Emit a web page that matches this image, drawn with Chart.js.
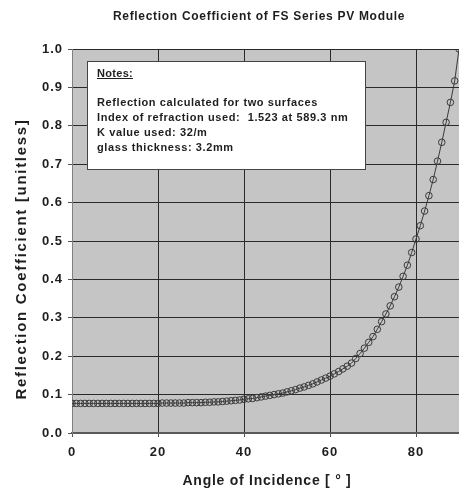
<!DOCTYPE html>
<html>
<head>
<meta charset="utf-8">
<script src="https://cdn.jsdelivr.net/npm/chart.js@4/dist/chart.umd.min.js"></script>
<style>
  html, body { margin: 0; padding: 0; background: #fff; overflow: hidden; }
  #wrap { position: absolute; left: 0; top: 0; width: 464px; height: 495px; }
</style>
</head>
<body>
<div id="wrap"><canvas id="myChart" width="464" height="495"></canvas></div>
<script>
// angle of incidence in degrees, one point per degree
const angles = [
  0, 1, 2, 3, 4, 5, 6, 7, 8, 9,
  10, 11, 12, 13, 14, 15, 16, 17, 18, 19,
  20, 21, 22, 23, 24, 25, 26, 27, 28, 29,
  30, 31, 32, 33, 34, 35, 36, 37, 38, 39,
  40, 41, 42, 43, 44, 45, 46, 47, 48, 49,
  50, 51, 52, 53, 54, 55, 56, 57, 58, 59,
  60, 61, 62, 63, 64, 65, 66, 67, 68, 69,
  70, 71, 72, 73, 74, 75, 76, 77, 78, 79,
  80, 81, 82, 83, 84, 85, 86, 87, 88, 89,
  90
]

// reflection coefficient (unitless) for each angle above
const reflection = [
  0.077, 0.077, 0.077, 0.077, 0.077, 0.077, 0.077, 0.077, 0.077, 0.077,
  0.077, 0.077, 0.077, 0.077, 0.077, 0.077, 0.077, 0.077, 0.077, 0.077,
  0.077, 0.078, 0.078, 0.078, 0.078, 0.078, 0.078, 0.079, 0.079, 0.079,
  0.079, 0.080, 0.080, 0.081, 0.081, 0.082, 0.083, 0.084, 0.085, 0.086,
  0.088, 0.089, 0.090, 0.092, 0.094, 0.096, 0.098, 0.100, 0.102, 0.104,
  0.107, 0.110, 0.113, 0.117, 0.120, 0.124, 0.128, 0.133, 0.138, 0.143,
  0.148, 0.154, 0.160, 0.167, 0.174, 0.182, 0.194, 0.207, 0.221, 0.236,
  0.251, 0.270, 0.290, 0.310, 0.331, 0.355, 0.380, 0.408, 0.437, 0.470,
  0.505, 0.540, 0.578, 0.618, 0.660, 0.708, 0.757, 0.809, 0.861, 0.917,
  1.000
]

const chartTitle = 'Reflection Coefficient of FS Series PV Module'
const xTitle = 'Angle of Incidence [ ° ]'
const yTitle = 'Reflection Coefficient [unitless]'
const notesHead = 'Notes:'
const notesLines = [
  'Reflection calculated for two surfaces',
  'Index of refraction used:  1.523 at 589.3 nm',
  'K value used: 32/m',
  'glass thickness: 3.2mm'
]

const points = angles.map((a, i) => ({ x: a, y: reflection[i] }))

const FONT = '"Liberation Sans", Arial, sans-serif'

// grey plot background + wider tick lettering
const plotBackground = {
  id: 'plotBackground',
  beforeDraw (chart) {
    const { ctx, chartArea } = chart
    ctx.save()
    ctx.fillStyle = '#c5c5c5'
    ctx.fillRect(chartArea.left, chartArea.top, chartArea.right - chartArea.left, chartArea.bottom - chartArea.top)
    ctx.restore()
    ctx.letterSpacing = '1px'
  }
}

function spacedText (ctx, text, x, y, spacing) {
  ctx.letterSpacing = spacing + 'px'
  ctx.fillText(text, x, y)
}

// title, axis titles and the notes box
const annotations = {
  id: 'annotations',
  afterDraw (chart) {
    const { ctx } = chart
    ctx.save()
    ctx.fillStyle = '#1e1e1e'
    ctx.textAlign = 'center'
    ctx.textBaseline = 'middle'

    ctx.font = 'bold 12px ' + FONT
    spacedText(ctx, chartTitle, 259, 17, 0.7)

    ctx.font = 'bold 14px ' + FONT
    spacedText(ctx, xTitle, 267, 481, 0.75)

    ctx.save()
    ctx.translate(22, 259)
    ctx.rotate(-Math.PI / 2)
    ctx.font = 'bold 15px ' + FONT
    spacedText(ctx, yTitle, 0, 0, 1.7)
    ctx.restore()

    // notes box
    ctx.fillStyle = '#ffffff'
    ctx.fillRect(87.5, 61.5, 278, 108)
    ctx.strokeStyle = '#444'
    ctx.lineWidth = 1
    ctx.strokeRect(87.5, 61.5, 278, 108)

    ctx.fillStyle = '#1e1e1e'
    ctx.textAlign = 'left'
    ctx.font = 'bold 11px ' + FONT
    spacedText(ctx, notesHead, 97, 73.5, 0.3)
    const w = ctx.measureText(notesHead).width
    ctx.fillRect(97, 78, w, 1)

    notesLines.forEach((line, i) => {
      spacedText(ctx, line, 97, 102.5 + i * 15.3, 0.6)
    })
    ctx.letterSpacing = '0px'
    ctx.restore()
  }
}

const ctx = document.querySelector('#myChart')
const myChart = new Chart(ctx, {
  type: 'line',
  data: {
    datasets: [{
      data: points,
      borderColor: '#3a3a3a',
      borderWidth: 1,
      pointRadius: 3.3,
      pointBorderColor: '#3a3a3a',
      pointBackgroundColor: 'rgba(0,0,0,0)',
      pointBorderWidth: 1,
      tension: 0
    }]
  },
  options: {
    responsive: false,
    animation: false,
    layout: {
      padding: { top: 49, left: 0, right: 3, bottom: 0 }
    },
    plugins: {
      legend: { display: false },
      tooltip: { enabled: false },
      title: { display: false }
    },
    scales: {
      x: {
        type: 'linear',
        min: 0,
        max: 90,
        afterFit: (scale) => { scale.height = 62 },
        ticks: {
          stepSize: 20,
          includeBounds: false,
          padding: 8,
          color: '#1e1e1e',
          font: { family: FONT, size: 13, weight: 'bold' }
        },
        grid: {
          color: '#2a2a2a',
          lineWidth: 1,
          tickLength: 4,
          tickColor: '#555'
        },
        border: { color: '#5a5a5a', width: 2 }
      },
      y: {
        min: 0,
        max: 1,
        afterFit: (scale) => { scale.width = 72 },
        ticks: {
          stepSize: 0.1,
          padding: 5,
          color: '#1e1e1e',
          font: { family: FONT, size: 13, weight: 'bold' },
          callback: (v) => v.toFixed(1)
        },
        grid: {
          color: '#2a2a2a',
          lineWidth: 1,
          tickLength: 4,
          tickColor: '#555'
        },
        border: { color: '#808080', width: 1 }
      }
    }
  },
  plugins: [plotBackground, annotations]
})
</script>
</body>
</html>
